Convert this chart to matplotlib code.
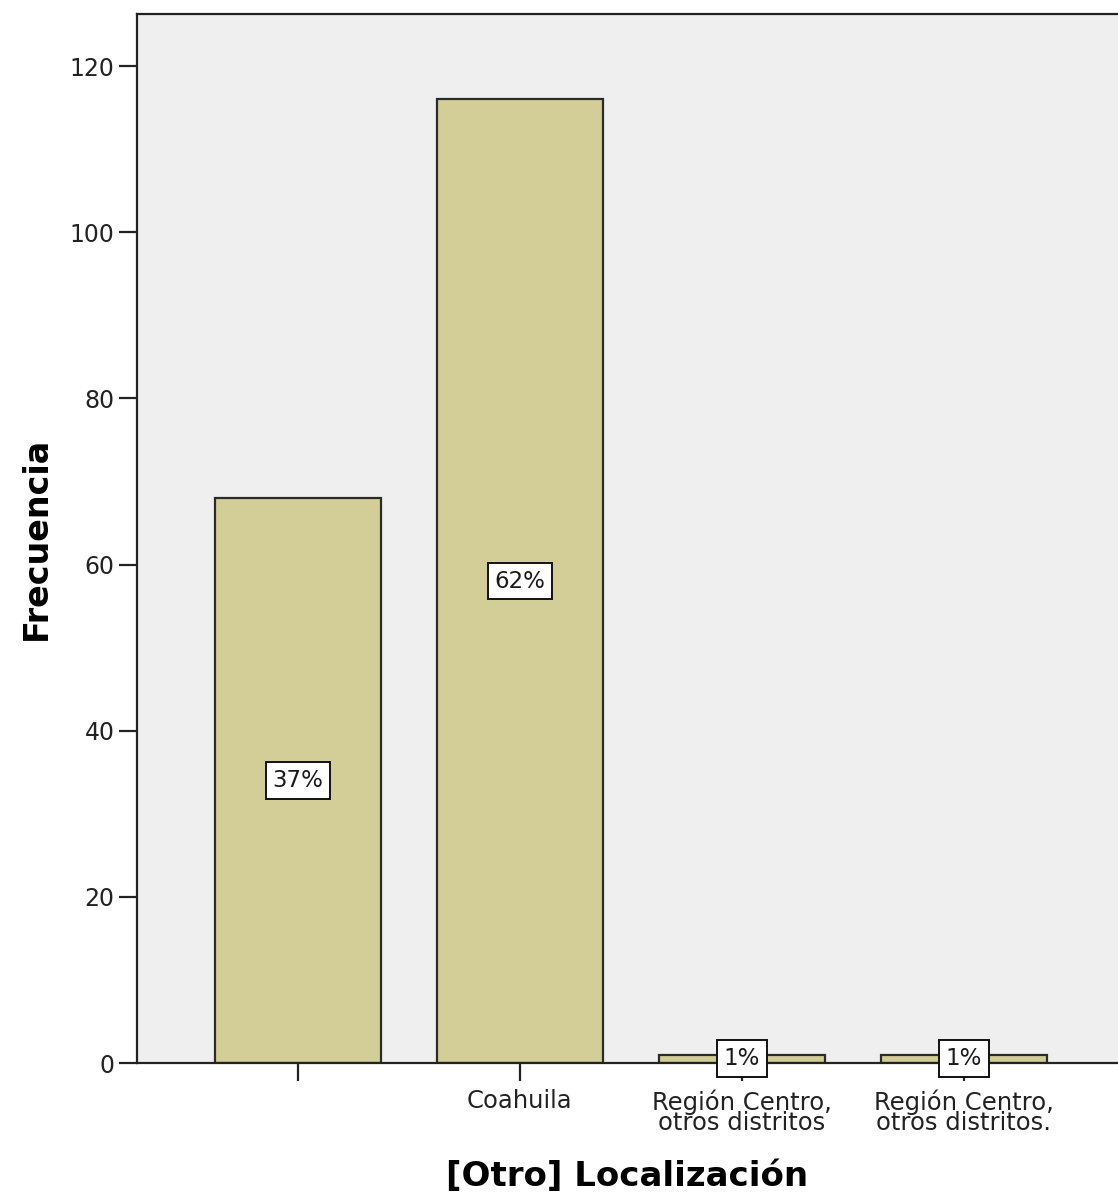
import matplotlib
matplotlib.use("Agg")
import matplotlib.pyplot as plt

# ── 資料 ──────────────────────────────────────────────────────────────────────
categories = ["", "Coahuila", "Región Centro,\notros distritos", "Región Centro,\notros distritos."]
counts = [68, 116, 1, 1]
pct_labels = ["37%", "62%", "1%", "1%"]
y_ticks = [0, 20, 40, 60, 80, 100, 120]

BAR_COLOR = "#D3CE98"
BG_COLOR = "#EFEFEF"

plt.rcParams["font.family"] = ["DejaVu Sans"]

fig = plt.figure(figsize=(11.18, 11.96), dpi=100)
ax = fig.add_axes([0.1225, 0.1112, 0.8775, 0.8771])
ax.set_facecolor(BG_COLOR)

x = list(range(len(categories)))
ax.bar(x, counts, width=0.75, color=BAR_COLOR, edgecolor="#2b2b2b", linewidth=1.6, zorder=2)

for xi, h, lab in zip(x, counts, pct_labels):
    ax.text(xi, h / 2, lab, ha="center", va="center", fontsize=16.5, zorder=3,
            color="#1a1a1a",
            bbox=dict(boxstyle="square,pad=0.3", facecolor="white", edgecolor="#111111", linewidth=1.4))

ax.set_xlim(-0.725, 3.694)
ax.set_ylim(0, 126.26)
ax.set_yticks(y_ticks)
ax.set_xticks(x)
ax.set_xticklabels(categories, fontsize=17.5, linespacing=0.8)
ax.tick_params(axis="y", labelsize=17, length=13, width=1.6, direction="out", colors="#222222", pad=3)
ax.tick_params(axis="x", length=13, width=1.6, direction="out", colors="#222222", pad=6)

ax.spines["right"].set_visible(False)
for s in ["left", "top", "bottom"]:
    ax.spines[s].set_linewidth(1.6)
    ax.spines[s].set_color("#222222")

ax.set_ylabel("Frecuencia", fontsize=24, fontweight="bold", labelpad=12)
ax.set_xlabel("[Otro] Localización", fontsize=24.5, fontweight="bold", labelpad=18)

plt.savefig("out.png", dpi=100)
